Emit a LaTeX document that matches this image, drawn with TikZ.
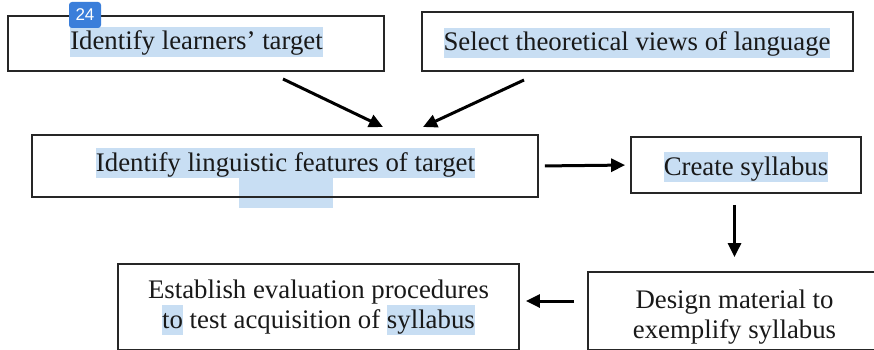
\documentclass[tikz,border=0pt]{standalone}
\usepackage{fontspec}
\setmainfont{Liberation Serif}
\newfontfamily\badgefont{Liberation Sans}
\usetikzlibrary{arrows.meta}

\definecolor{hlblue}{RGB}{200,222,243}
\definecolor{badgeblue}{RGB}{58,126,218}
\newcommand{\hilite}[1]{{\setlength{\fboxsep}{0pt}\colorbox{hlblue}{\rule[-7pt]{0pt}{30pt}#1}}}

\begin{document}
\begin{tikzpicture}[x=1pt,y=-1pt,
  stage/.style={draw=black!85, line width=1.8pt, inner sep=0pt},
  stagetext/.style={inner sep=0pt, align=center, anchor=base, text=black!90,
    font=\fontsize{26.8}{30}\selectfont},
  flow/.style={line width=3pt, -{Triangle[length=14pt,width=13pt]}},
  badge/.style={fill=badgeblue, rounded corners=3pt, text=white, inner sep=0pt,
    minimum width=32pt, minimum height=26pt, font=\badgefont\fontsize{17}{17}\selectfont}]

	\useasboundingbox (0,0) rectangle (874,350);
	\clip (0,0) rectangle (874,350);

	% texts first, so the frames stay on top of the highlights
	% (multi-line nodes: base = baseline of the last line)
	\node[stagetext] (learnersT) at (196.5,50)  {\hilite{Identify learners’ target}};
	\node[stagetext] (viewsT)    at (637,51)    {\hilite{Select theoretical views of language}};
	\node[stagetext] (featuresT) at (285.5,201) {\hilite{Identify linguistic features of target}\\ \hilite{\hspace*{94pt}}};
	\node[stagetext] (syllabusT) at (746,175)   {\hilite{Create syllabus}};
	\node[stagetext] (materialT) at (734.5,338) {Design material to\\ exemplify syllabus};
	\node[stagetext] (evaluationT) at (318.5,328) {Establish evaluation procedures\\ \hilite{to} test acquisition of \hilite{syllabus}};

	% frames
	\node[stage, minimum width=376pt, minimum height=55pt] (learners)   at (196,43.5)  {};
	\node[stage, minimum width=431pt, minimum height=59pt] (views)      at (637.5,41.5) {};
	\node[stage, minimum width=506pt, minimum height=62pt] (features)   at (285,166)   {};
	\node[stage, minimum width=230pt, minimum height=56pt] (syllabus)   at (746,165)   {};
	\node[stage, minimum width=293pt, minimum height=78pt] (material)   at (734.5,311) {};
	\node[stage, minimum width=401pt, minimum height=86pt] (evaluation) at (318.5,307) {};

	\node[badge] (page) at (85,15) {24};

	% arrows
	\coordinate (learnersout) at (283,79);
	\coordinate (viewsout)    at (524,80);
	\coordinate (featuresinl) at (383,127);
	\coordinate (featuresinr) at (423,127);

	\draw[flow] (learnersout) -- (featuresinl);
	\draw[flow] (viewsout) -- (featuresinr);
	\draw[flow, shorten <=6pt, shorten >=5pt] (features.east) -- (syllabus.west);
	\draw[flow, shorten <=11pt, shorten >=14pt] (syllabus.south -| material.north) -- (material.north);
	\draw[flow, shorten <=13pt, shorten >=6pt] ([yshift=10pt]material.west) -- ([yshift=6pt]evaluation.east);

\end{tikzpicture}
\end{document}
